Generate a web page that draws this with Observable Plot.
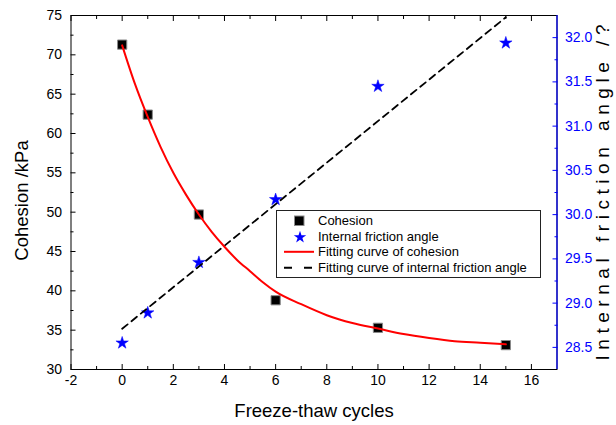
<!DOCTYPE html>
<html>
<head>
<meta charset="utf-8">
<script src="https://cdn.jsdelivr.net/npm/d3@7"></script>
<script src="https://cdn.jsdelivr.net/npm/@observablehq/plot@0.6"></script>
<style>
  html, body { margin: 0; padding: 0; background: #fff; }
  body { font-family: Arial, "Liberation Sans", sans-serif; }
  #wrap { position: relative; width: 616px; height: 425px; overflow: hidden; }
  #legend { position: absolute; left: 276px; top: 210px; width: 265px; height: 68px;
            box-sizing: border-box; border: 1px solid #222; background: #fff;
            font-size: 13px; color: #000; padding-top: 2px; }
  #legend .row { position: relative; height: 15.6px; line-height: 15.6px; white-space: nowrap; }
  #legend svg { position: absolute; left: 0; top: 0; }
  #legend span { position: absolute; left: 41px; top: 0; }
</style>
</head>
<body>
<div id="wrap"><div id="chart"></div><div id="legend"></div></div>
<script>
// ---- data ----
const cycles        = [0, 1, 3, 6, 10, 15];
const cohesion      = [71.3, 62.4, 49.7, 38.8, 35.3, 33.1];
const frictionAngle = [28.55, 28.89, 29.46, 30.17, 31.45, 31.94];

const fitCohesionX = [0, 0.5, 1, 1.5, 2, 2.5, 3, 3.5, 4, 4.5, 5, 5.5, 6, 7, 8, 9, 10, 11, 12, 13, 14, 15];
const fitCohesionY = [71.2, 66.3, 62.1, 58.3, 55.0, 52.2, 49.7, 47.5, 45.6, 43.9, 42.5, 41.1, 39.9, 38.3, 36.9, 35.9, 35.2, 34.5, 34.0, 33.6, 33.4, 33.2];
const fitFrictionX = [0, 15];
const fitFrictionY = [28.71, 32.23];

const xTicks        = [-2, 0, 2, 4, 6, 8, 10, 12, 14, 16];
const xMinor        = [-1, 1, 3, 5, 7, 9, 11, 13, 15];
const cohesionTicks = [30, 35, 40, 45, 50, 55, 60, 65, 70, 75];
const cohesionMinor = [32.5, 37.5, 42.5, 47.5, 52.5, 57.5, 62.5, 67.5, 72.5];
const frictionTicks = [28.5, 29.0, 29.5, 30.0, 30.5, 31.0, 31.5, 32.0];
const frictionMinor = [28.75, 29.25, 29.75, 30.25, 30.75, 31.25, 31.75];

const xDomain = [-2, 17];
const leftDomain = [30, 75];
const rightDomain = [28.25, 32.25];

const legendLabels = ["Cohesion", "Internal friction angle", "Fitting curve of cohesion", "Fitting curve of internal friction angle"];
const titleX = "Freeze-thaw cycles";
const titleLeft = "Cohesion /kPa";
const titleRight = "Internal friction angle /?";

// ---- build ----
const toLeft = d3.scaleLinear(rightDomain, leftDomain);
const pts = cycles.map((c, i) => ({x: c, c: cohesion[i], f: frictionAngle[i]}));
const fitC = fitCohesionX.map((x, i) => ({x, y: fitCohesionY[i]}));
const fitF = fitFrictionX.map((x, i) => ({x, y: toLeft(fitFrictionY[i])}));
const fmt = d => String(d);
const BLUE = "#0000ff";

const chart = Plot.plot({
  width: 616, height: 425,
  marginLeft: 70.5, marginRight: 59.5, marginTop: 15, marginBottom: 56,
  style: {fontFamily: "Arial, 'Liberation Sans', sans-serif", fontSize: "14px", background: "#fff"},
  x: {domain: xDomain},
  y: {domain: leftDomain},
  marks: [
    Plot.frame({stroke: "black", strokeWidth: 1}),
    Plot.ruleX([xDomain[1]], {stroke: BLUE, strokeWidth: 1.2}),
    // left axis
    Plot.axisY(cohesionTicks, {anchor: "left", tickSize: 5, dx: 5, fill: "none", stroke: "black"}),
    Plot.axisY(cohesionMinor, {anchor: "left", tickSize: 3, dx: 3, fill: "none", stroke: "black"}),
    Plot.axisY(cohesionTicks, {anchor: "left", tickSize: 0, tickPadding: 9, fontSize: 14, tickFormat: fmt, label: null, fill: "black"}),
    // bottom axis
    Plot.axisX(xTicks, {anchor: "bottom", tickSize: 5, dy: -5, fill: "none", stroke: "black"}),
    Plot.axisX(xMinor, {anchor: "bottom", tickSize: 3, dy: -3, fill: "none", stroke: "black"}),
    Plot.axisX(xTicks, {anchor: "bottom", tickSize: 0, tickPadding: 6, fontSize: 14, tickFormat: fmt, label: null, fill: "black"}),
    // top ticks
    Plot.axisX(xTicks, {anchor: "top", tickSize: 5, dy: 5, fill: "none", stroke: "black"}),
    Plot.axisX(xMinor, {anchor: "top", tickSize: 3, dy: 3, fill: "none", stroke: "black"}),
    // right axis (friction angle)
    Plot.axisY(frictionTicks.map(toLeft), {anchor: "right", tickSize: 5, dx: -5, fill: "none", stroke: BLUE}),
    Plot.axisY(frictionMinor.map(toLeft), {anchor: "right", tickSize: 3, dx: -3, fill: "none", stroke: BLUE}),
    Plot.axisY(frictionTicks.map(toLeft), {anchor: "right", tickSize: 0, tickPadding: 8, fontSize: 14, label: null, fill: BLUE,
      tickFormat: d => toLeft.invert(d).toFixed(1)}),
    // titles
    Plot.text([titleX], {frameAnchor: "bottom", dy: 42, fontSize: 18.5, fill: "black", lineAnchor: "middle"}),
    Plot.text([titleLeft], {frameAnchor: "left", dx: -49, dy: 8, rotate: -90, textAnchor: "middle", fontSize: 18.5, fill: "black"}),
    Plot.text([titleRight], {frameAnchor: "right", dx: 46, dy: 0, rotate: -90, textAnchor: "middle", fontSize: 19, fill: "black", className: "rtitle"}),
    // data
    Plot.dot(pts, {x: "x", y: "c", symbol: "square", r: 5.2, fill: "black", stroke: "#8a8a8a", strokeWidth: 1}),
    Plot.dot(pts, {x: "x", y: d => toLeft(d.f), symbol: "star", r: 3.9, fill: BLUE, stroke: BLUE, strokeWidth: 0.5}),
    Plot.line(fitF, {x: "x", y: "y", stroke: "black", strokeWidth: 1.8, strokeDasharray: "7,5"}),
    Plot.line(fitC, {x: "x", y: "y", stroke: "red", strokeWidth: 2, curve: "monotone-x"})
  ]
});
// the reference title is set with wide letter spacing
d3.select(chart).selectAll(".rtitle text").attr("textLength", 336).attr("lengthAdjust", "spacing");
document.getElementById("chart").appendChild(chart);

// legend
const symbols = [
  `<rect x="17.5" y="3" width="9.5" height="9.5" fill="black" stroke="#8a8a8a" stroke-width="1"/>`,
  `<path d="${d3.symbol(d3.symbolStar, 48)()}" transform="translate(23,8.3)" fill="${BLUE}"/>`,
  `<line x1="7" x2="37" y1="7.8" y2="7.8" stroke="red" stroke-width="2"/>`,
  `<line x1="7" x2="37" y1="7.8" y2="7.8" stroke="black" stroke-width="2" stroke-dasharray="8,12"/>`
];
const lg = document.getElementById("legend");
legendLabels.forEach((t, i) => {
  const row = document.createElement("div");
  row.className = "row";
  row.innerHTML = `<svg width="40" height="16">${symbols[i]}</svg><span>${t}</span>`;
  lg.appendChild(row);
});
</script>
</body>
</html>
